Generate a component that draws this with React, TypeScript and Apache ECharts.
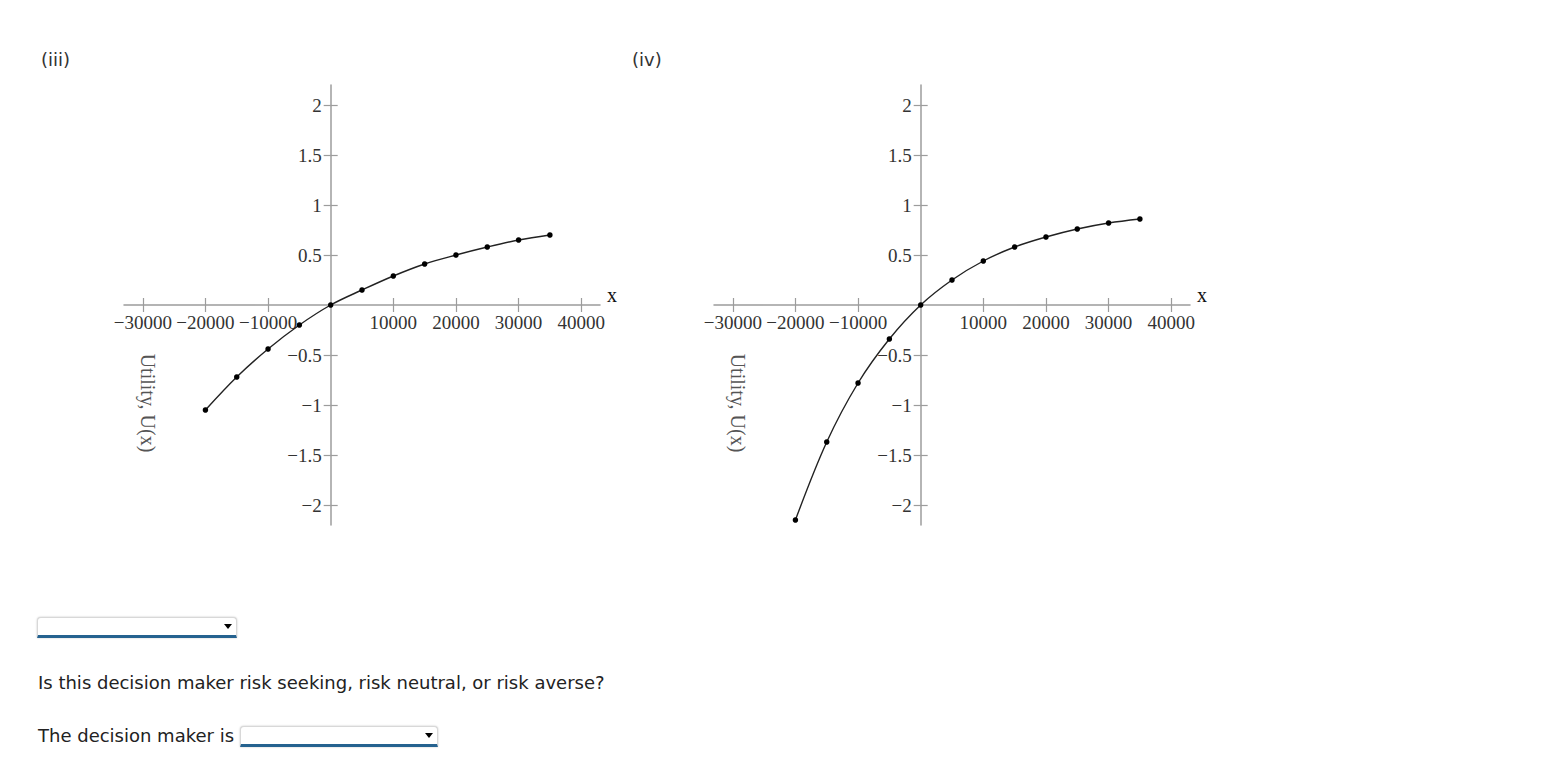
import React, { useEffect, useRef } from "react";
import * as echarts from "echarts";

const xValues = [-20000, -15000, -10000, -5000, 0, 5000, 10000, 15000, 20000, 25000, 30000, 35000];
const utilityIII = [-1.05, -0.72, -0.44, -0.2, 0, 0.15, 0.29, 0.41, 0.5, 0.58, 0.65, 0.7];
const utilityIV = [-2.15, -1.37, -0.78, -0.34, 0, 0.25, 0.44, 0.58, 0.68, 0.76, 0.82, 0.86];
const xTickValues = [-30000, -20000, -10000, 10000, 20000, 30000, 40000];
const yTickValues = [-2, -1.5, -1, -0.5, 0.5, 1, 1.5, 2];
const panelTitles = ["(iii)", "(iv)"];
const yAxisTitle = "Utility, U(x)";
const xAxisTitle = "x";
const questionText = "Is this decision maker risk seeking, risk neutral, or risk averse?";
const answerPrefix = "The decision maker is";

const X_MIN = -33000;
const X_MAX = 43000;
const Y_MIN = -2.2;
const Y_MAX = 2.2;
const GRID_W = 476;
const GRID_H = 440;

const AXIS_COLOR = "#9c9c9c";
const LABEL_COLOR = "#333";
const SERIF = "'Liberation Serif', 'Times New Roman', serif";
const SANS = "'DejaVu Sans', Verdana, sans-serif";

const fmt = (v: number) => (v < 0 ? "\u2212" + String(-v) : String(v));

// pixel distance from grid edges to the zero lines (derived from axis ranges)
const zeroFromLeft = ((0 - X_MIN) / (X_MAX - X_MIN)) * GRID_W;
const zeroFromRight = GRID_W - zeroFromLeft;
const zeroFromBottom = ((0 - Y_MIN) / (Y_MAX - Y_MIN)) * GRID_H;
const zeroFromTop = GRID_H - zeroFromBottom;

const tickStyle = { color: AXIS_COLOR, width: 1.2 };

function buildAxes(gridIndex: number) {
  const xMain = {
    type: "value",
    gridIndex,
    min: X_MIN,
    max: X_MAX,
    position: "bottom",
    offset: -zeroFromBottom,
    axisLine: { show: true, onZero: false, lineStyle: { color: AXIS_COLOR, width: 1.5 } },
    axisTick: { show: true, length: 7, customValues: xTickValues, lineStyle: tickStyle },
    axisLabel: {
      show: true,
      customValues: xTickValues,
      formatter: fmt,
      fontFamily: SERIF,
      fontSize: 19,
      color: LABEL_COLOR,
      margin: 8,
    },
    splitLine: { show: false },
    name: xAxisTitle,
    nameLocation: "end",
    nameGap: 7,
    nameTextStyle: { fontFamily: SERIF, fontSize: 20, color: "#111", verticalAlign: "bottom", align: "left" },
  };
  const xMirror = {
    type: "value",
    gridIndex,
    min: X_MIN,
    max: X_MAX,
    position: "top",
    offset: -zeroFromTop,
    axisLine: { show: false, onZero: false },
    axisTick: { show: true, length: 7, customValues: xTickValues, lineStyle: tickStyle },
    axisLabel: { show: false },
    splitLine: { show: false },
  };
  const yMain = {
    type: "value",
    gridIndex,
    min: Y_MIN,
    max: Y_MAX,
    position: "left",
    offset: -zeroFromLeft,
    axisLine: { show: true, onZero: false, lineStyle: { color: AXIS_COLOR, width: 1.5 } },
    axisTick: { show: true, length: 7, customValues: yTickValues, lineStyle: tickStyle },
    axisLabel: {
      show: true,
      customValues: yTickValues,
      formatter: fmt,
      fontFamily: SERIF,
      fontSize: 19,
      color: LABEL_COLOR,
      margin: 9,
    },
    splitLine: { show: false },
  };
  const yMirror = {
    type: "value",
    gridIndex,
    min: Y_MIN,
    max: Y_MAX,
    position: "right",
    offset: -zeroFromRight,
    axisLine: { show: false, onZero: false },
    axisTick: { show: true, length: 7, customValues: yTickValues, lineStyle: tickStyle },
    axisLabel: { show: false },
    splitLine: { show: false },
  };
  return { x: [xMain, xMirror], y: [yMain, yMirror] };
}

function Dropdown({ left, top, width }: { left: number; top: number; width: number }) {
  return (
    <div
      style={{
        position: "absolute",
        left,
        top,
        width,
        height: 21,
        boxSizing: "border-box",
        background: "#fff",
        border: "1px solid #d8d8d8",
        borderBottom: "3px solid #25628f",
        borderRadius: "4px 4px 0 0",
        boxShadow: "0 0 2px rgba(0,0,0,0.25)",
      }}
    >
      <div
        style={{
          position: "absolute",
          right: 4,
          top: 6,
          width: 0,
          height: 0,
          borderLeft: "4px solid transparent",
          borderRight: "4px solid transparent",
          borderTop: "5px solid #000",
        }}
      />
    </div>
  );
}

export default function App() {
  const ref = useRef<HTMLDivElement>(null);

  useEffect(() => {
    if (!ref.current) return;
    const chart = echarts.init(ref.current, undefined, { renderer: "svg" });
    const a0 = buildAxes(0);
    const a1 = buildAxes(1);
    const seriesStyle = {
      type: "line",
      smooth: 0.35,
      symbol: "circle",
      symbolSize: 5.5,
      showSymbol: true,
      lineStyle: { color: "#222", width: 1.4 },
      itemStyle: { color: "#000" },
      clip: false,
      z: 5,
    };
    chart.setOption({
      animation: false,
      grid: [
        { left: 124, top: 85, width: GRID_W, height: GRID_H },
        { left: 714, top: 85, width: GRID_W, height: GRID_H },
      ],
      xAxis: [...a0.x, ...a1.x],
      yAxis: [...a0.y, ...a1.y],
      series: [
        { ...seriesStyle, name: "(iii)", xAxisIndex: 0, yAxisIndex: 0, data: xValues.map((x, i) => [x, utilityIII[i]]) },
        { ...seriesStyle, name: "(iv)", xAxisIndex: 2, yAxisIndex: 2, data: xValues.map((x, i) => [x, utilityIV[i]]) },
      ],
      graphic: [
        {
          type: "text",
          x: 41,
          y: 59,
          style: { text: panelTitles[0], font: `18px ${SANS}`, fill: "#333", textVerticalAlign: "middle" },
        },
        {
          type: "text",
          x: 632,
          y: 59,
          style: { text: panelTitles[1], font: `18px ${SANS}`, fill: "#333", textVerticalAlign: "middle" },
        },
        {
          type: "text",
          x: 148,
          y: 403,
          rotation: -Math.PI / 2,
          style: { text: yAxisTitle, font: `20px ${SERIF}`, fill: "#555", textAlign: "center", textVerticalAlign: "middle" },
        },
        {
          type: "text",
          x: 738,
          y: 403,
          rotation: -Math.PI / 2,
          style: { text: yAxisTitle, font: `20px ${SERIF}`, fill: "#555", textAlign: "center", textVerticalAlign: "middle" },
        },
      ],
    });
    return () => chart.dispose();
  }, []);

  return (
    <div style={{ position: "absolute", left: 0, top: 0, width: 1549, height: 769, fontFamily: SANS, color: "#222" }}>
      <div ref={ref} style={{ position: "absolute", left: 0, top: 0, width: 1549, height: 560 }} />
      <Dropdown left={37} top={617} width={200} />
      <div style={{ position: "absolute", left: 38, top: 672, fontSize: 18, lineHeight: "22px", whiteSpace: "nowrap" }}>
        {questionText}
      </div>
      <div style={{ position: "absolute", left: 38, top: 725, fontSize: 18, lineHeight: "22px", whiteSpace: "nowrap" }}>
        {answerPrefix}
      </div>
      <Dropdown left={240} top={726} width={198} />
    </div>
  );
}
